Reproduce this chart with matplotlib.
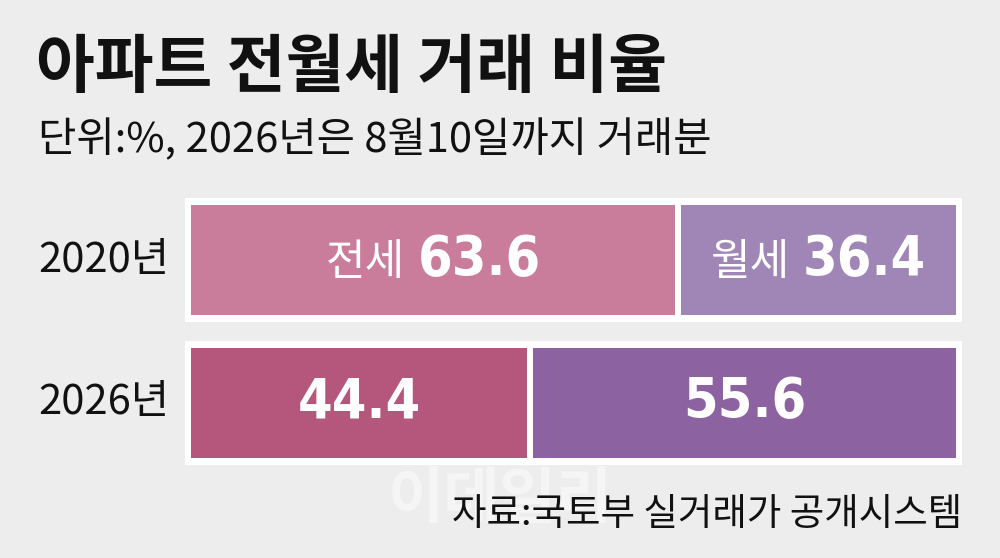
"""
plot.py
apartment jeonse / wolse transaction share, stacked bars.
"""

import matplotlib
matplotlib.use("Agg")
import matplotlib.pyplot as plt
import matplotlib.transforms as mtransforms
from matplotlib.offsetbox import TextArea, HPacker, AnnotationBbox

plt.rcParams["font.family"] = ["Noto Sans CJK KR", "DejaVu Sans"]

TITLE    = "아파트 전월세 거래 비율"
SUBTITLE = "단위:%, 2026년은 8월10일까지 거래분"
SOURCE   = "자료:국토부 실거래가 공개시스템"
MARK     = "이데일리"

years   = ["2020년", "2026년"]
jeonse  = [63.6, 44.4]
wolse   = [36.4, 55.6]
tags_j  = ["전세", ""]
tags_w  = ["월세", ""]

COL_J = ["#c97d9a", "#b5567d"]
COL_W = ["#9f86b6", "#8c63a0"]
BG    = "#ededed"
INK   = "#111111"

W, H = 1000, 558
fig = plt.figure(figsize=(W / 100, H / 100), dpi=100, facecolor=BG)

# axes box in pixels: outer white frames from x 185..962, y 198..465
ax = fig.add_axes([185 / W, (H - 465) / H, 777 / W, 267 / H])
ax.set_facecolor("none")
for s in ax.spines.values():
    s.set_visible(False)
ax.set_xticks([])
ax.set_yticks([])

px_x = 771 / 100.0          # pixels per percent
pad = 3 / px_x
ax.set_xlim(-pad, 100 + pad)
row_px = 142.5
ax.set_ylim(1 + 62.5 / row_px, -62 / row_px)

ypos = list(range(len(years)))
gap_pt = 6 * 72 / 100

ax.barh(ypos, 100 + 2 * pad, left=-pad, height=124 / row_px, color="white", zorder=1)
ax.barh(ypos, jeonse, height=116 / row_px, color=COL_J,
        edgecolor="white", linewidth=gap_pt, zorder=2)
ax.barh(ypos, wolse, left=jeonse, height=116 / row_px, color=COL_W,
        edgecolor="white", linewidth=gap_pt, zorder=2)


def seg_label(x, y, tag, value):
    parts = []
    if tag:
        parts.append(TextArea(tag, textprops=dict(color="white", fontsize=31)))
    parts.append(TextArea(f"{value:.1f}", textprops=dict(
        color="white", fontsize=40, fontweight="bold",
        family=["DejaVu Sans"], fontstretch="condensed")))
    box = HPacker(children=parts, align="baseline", pad=0, sep=9)
    ab = AnnotationBbox(box, (x, y), xycoords="data", frameon=False,
                        box_alignment=(0.5, 0.5), zorder=3)
    ax.add_artist(ab)


for i in ypos:
    seg_label(jeonse[i] / 2, i, tags_j[i], jeonse[i])
    seg_label(jeonse[i] + wolse[i] / 2, i, tags_w[i], wolse[i])

# year labels, left aligned in figure x, row centred in data y
trans = mtransforms.blended_transform_factory(fig.transFigure, ax.transData)
for i, yr in enumerate(years):
    ax.text(38 / W, i, yr, transform=trans, ha="left", va="center",
            fontsize=30, color=INK)

fig.text(36 / W, 1 - 68 / H, TITLE, ha="left", va="center",
         fontsize=46, fontweight="bold", color=INK)
fig.text(38 / W, 1 - 140 / H, SUBTITLE, ha="left", va="center",
         fontsize=30, color=INK)

fig.text(500 / W, 1 - 500 / H, MARK, ha="center", va="center",
         fontsize=44, fontweight="bold", color="white", alpha=0.45)
fig.text(962 / W, 1 - 514 / H, SOURCE, ha="right", va="center",
         fontsize=27, color=INK)

fig.savefig("out.png", dpi=100, facecolor=BG)
